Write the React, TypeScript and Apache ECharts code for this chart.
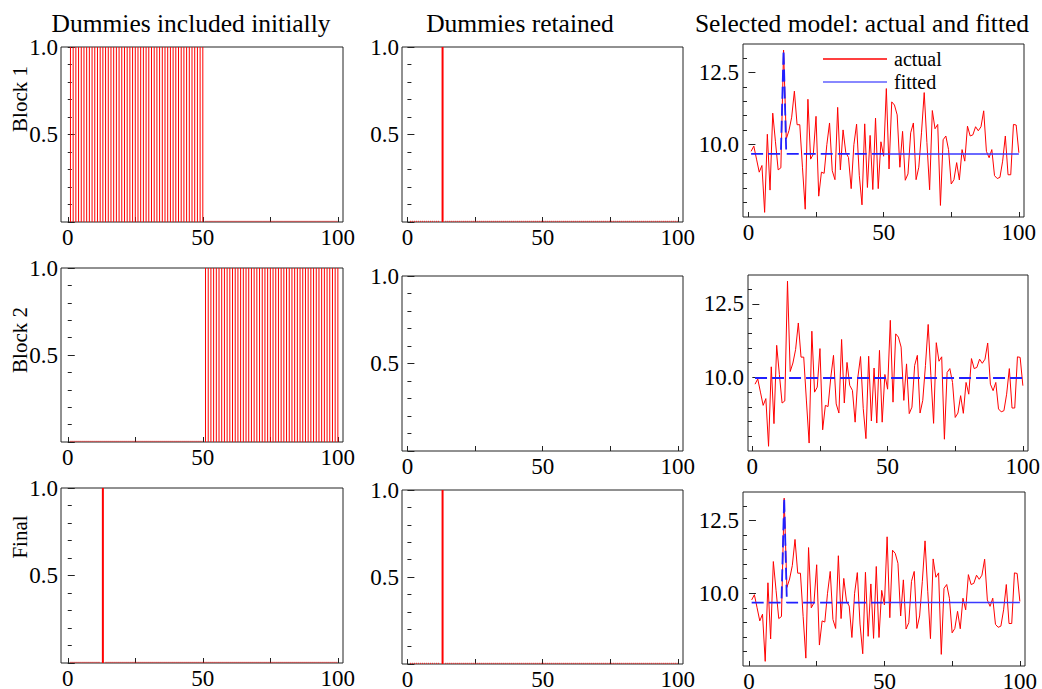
import React, { useEffect, useRef } from "react";
import * as echarts from "echarts";

// ---------- data ----------
const obs: number[] = Array.from({ length: 100 }, (_, i) => i + 1);

const actual: number[] = [
  9.77, 9.95, 9.5, 9.05, 9.28, 7.66, 10.36, 8.43, 11.09, 10.1,
  9.13, 9.2, 13.27, 10.2, 10.49, 10.95, 11.85, 10.69, 10.69, 9.2,
  7.77, 11.57, 9.5, 9.67, 10.98, 8.22, 9.05, 9.01, 10.0, 10.75,
  9.1, 8.79, 11.29, 9.13, 10.51, 9.73, 9.56, 8.48, 10.0, 10.71,
  8.94, 7.92, 10.72, 8.52, 10.32, 8.45, 10.92, 8.48, 10.1, 9.6,
  11.94, 9.16, 11.48, 11.37, 11.03, 9.22, 10.46, 8.77, 8.99, 10.41,
  10.75, 8.79, 9.22, 10.41, 11.8, 10.07, 8.44, 11.18, 10.55, 10.7,
  7.9, 10.17, 10.3, 9.83, 8.64, 8.79, 9.38, 8.78, 9.83, 9.43,
  10.64, 10.3, 10.34, 10.62, 10.48, 10.62, 11.17, 9.77, 9.55, 9.83,
  8.93, 8.83, 8.87, 9.43, 10.3, 8.96, 8.96, 10.7, 10.68, 9.72,
];

const includedBlock1: number[] = obs.filter((t) => t <= 50);
const retainedBlock1: number[] = [13];
const includedBlock2: number[] = obs.filter((t) => t > 50);
const retainedBlock2: number[] = [];
const includedFinal: number[] = [13];
const retainedFinal: number[] = [13];

const fittedLevelBlock1 = 9.68;
const fittedLevelBlock2 = 9.98;
const fittedLevelFinal = 9.68;

const xLabelValues = [0, 50, 100];
const xTickValues = [0, 25, 50, 75, 100];
const fitMajorTicks = [10, 12.5];
const fitMinorTicks = [8, 8.5, 9, 9.5, 10.5, 11, 11.5, 12, 13];

const columnTitles = ["Dummies included initially", "Dummies retained", "Selected model: actual and fitted"];
const rowNames = ["Block 1", "Block 2", "Final"];

// ---------- layout ----------
const FAMILY = "Liberation Serif";
const FONT = '"Liberation Serif", "Times New Roman", serif';
const grids = [
  { left: 61, top: 47, width: 282, height: 175 },
  { left: 402, top: 47, width: 281, height: 175 },
  { left: 743, top: 44, width: 281, height: 173 },
  { left: 61, top: 268, width: 282, height: 174 },
  { left: 402, top: 276, width: 281, height: 175 },
  { left: 748, top: 275, width: 280, height: 176 },
  { left: 61, top: 488, width: 282, height: 175 },
  { left: 402, top: 490, width: 281, height: 174 },
  { left: 743, top: 492, width: 282, height: 174 },
];
const xMins = [-2.5, -2, -2, -2.5, -2, -1.6, -2.5, -2, -2.2];
const titleX = [191, 520, 862];
const rowLabelY = [99, 340, 537];

const App: React.FC = () => {
  const ref = useRef<HTMLDivElement>(null);

  useEffect(() => {
    if (!ref.current) return;
    const chart = echarts.init(ref.current, undefined, { renderer: "svg" });

    const rich = { n: { fontFamily: FAMILY, fontSize: 23, color: "#000" } };
    const labelStyle = { fontFamily: FAMILY, fontSize: 23, color: "#000", rich };

    const xAxis: any[] = grids.map((_, g) => ({
      type: "value",
      gridIndex: g,
      min: xMins[g],
      max: 101.9,
      axisLine: { show: false },
      axisTick: { show: true, inside: true, length: 5, customValues: xTickValues, lineStyle: { color: "#222" } },
      axisLabel: {
        show: true,
        customValues: xLabelValues,
        ...labelStyle,
        margin: 4,
        formatter: (v: number) => `{n|${v}}`,
      },
      splitLine: { show: false },
    }));

    const yAxis: any[] = [];
    const series: any[] = [];

    const dummyPanels = [
      { grid: 0, flagged: includedBlock1 },
      { grid: 1, flagged: retainedBlock1 },
      { grid: 3, flagged: includedBlock2 },
      { grid: 4, flagged: retainedBlock2 },
      { grid: 6, flagged: includedFinal },
      { grid: 7, flagged: retainedFinal },
    ];

    dummyPanels.forEach((p) => {
      const yi = yAxis.length;
      yAxis.push({
        type: "value",
        gridIndex: p.grid,
        min: 0,
        max: 1,
        interval: 0.5,
        axisLine: { show: false },
        axisTick: { show: true, inside: true, length: 7, lineStyle: { color: "#222" } },
        minorTick: { show: true, splitNumber: 5, length: 4, lineStyle: { color: "#222" } },
        axisLabel: {
          ...labelStyle,
          margin: 3,
          formatter: (v: number) => (v === 0 ? "" : `{n|${v.toFixed(1)}}`),
        },
        splitLine: { show: false },
        minorSplitLine: { show: false },
      });
      const dummy = obs.map((t) => (p.flagged.includes(t) ? 1 : 0));
      series.push({
        type: "bar",
        xAxisIndex: p.grid,
        yAxisIndex: yi,
        data: obs.map((t, i) => [t, dummy[i]]),
        barWidth: p.flagged.length > 5 ? 1 : 2,
        itemStyle: { color: "#ff0000" },
        silent: true,
      });
      if (p.flagged.length > 0) {
        series.push({
          type: "line",
          xAxisIndex: p.grid,
          yAxisIndex: yi,
          data: obs.map((t, i) => [t, dummy[i] === 0 ? 0.004 : "-"]),
          symbol: "none",
          lineStyle: { color: "#ff0000", width: 1, type: "dotted" },
          silent: true,
        });
      }
    });

    const fitPanels = [
      { grid: 2, level: fittedLevelBlock1, dummies: retainedBlock1, split: 50 },
      { grid: 5, level: fittedLevelBlock2, dummies: retainedBlock2, split: 0 },
      { grid: 8, level: fittedLevelFinal, dummies: retainedFinal, split: 50 },
    ];

    fitPanels.forEach((p) => {
      const yi = yAxis.length;
      yAxis.push({
        type: "value",
        gridIndex: p.grid,
        min: 7.5,
        max: 13.48,
        position: "left",
        axisLine: { show: false },
        axisTick: { show: true, inside: true, length: 7, customValues: fitMajorTicks, lineStyle: { color: "#222" } },
        axisLabel: {
          customValues: fitMajorTicks,
          ...labelStyle,
          margin: 4,
          formatter: (v: number) => `{n|${v.toFixed(1)}}`,
        },
        splitLine: { show: false },
      });
      yAxis.push({
        type: "value",
        gridIndex: p.grid,
        min: 7.5,
        max: 13.48,
        position: "left",
        offset: 0,
        axisLine: { show: false },
        axisTick: { show: true, inside: true, length: 4, customValues: fitMinorTicks, lineStyle: { color: "#222" } },
        axisLabel: { show: false },
        splitLine: { show: false },
      });
      const fitted = obs.map((t, i) => (p.dummies.includes(t) ? actual[i] : p.level));
      series.push({
        type: "line",
        name: "actual",
        xAxisIndex: p.grid,
        yAxisIndex: yi,
        data: obs.map((t, i) => [t, actual[i]]),
        symbol: "none",
        lineStyle: { color: "#ff0000", width: 1 },
        itemStyle: { color: "#ff0000" },
        silent: true,
        z: 2,
      });
      if (p.split > 0) {
        series.push({
          type: "line",
          name: "fitted",
          xAxisIndex: p.grid,
          yAxisIndex: yi,
          data: obs.filter((t) => t >= p.split).map((t) => [t, fitted[t - 1]]),
          symbol: "none",
          lineStyle: { color: "#3a3aff", width: 1.5 },
          itemStyle: { color: "#6060ff" },
          silent: true,
          z: 3,
        });
        series.push({
          type: "line",
          name: "fittedDash",
          xAxisIndex: p.grid,
          yAxisIndex: yi,
          data: obs.filter((t) => t <= p.split).map((t) => [t, fitted[t - 1]]),
          symbol: "none",
          lineStyle: { color: "#2020ff", width: 1.8, type: [12, 5] },
          silent: true,
          z: 3,
        });
      } else {
        series.push({
          type: "line",
          name: "fittedDash",
          xAxisIndex: p.grid,
          yAxisIndex: yi,
          data: obs.map((t) => [t, fitted[t - 1]]),
          symbol: "none",
          lineStyle: { color: "#2020ff", width: 1.8, type: [12, 5] },
          silent: true,
          z: 3,
        });
      }
    });

    const graphic: any[] = [];
    columnTitles.forEach((txt, i) => {
      graphic.push({
        type: "text",
        x: titleX[i],
        y: 23,
        style: {
          text: txt,
          font: `25.5px ${FONT}`,
          fill: "#000",
          textAlign: "center",
          textVerticalAlign: "middle",
        },
      });
    });
    rowNames.forEach((txt, i) => {
      graphic.push({
        type: "text",
        x: 20,
        y: rowLabelY[i],
        rotation: Math.PI / 2,
        style: {
          text: txt,
          font: `21px ${FONT}`,
          fill: "#000",
          textAlign: "center",
          textVerticalAlign: "middle",
        },
      });
    });

    chart.setOption({
      animation: false,
      backgroundColor: "#fff",
      textStyle: { fontFamily: FAMILY },
      grid: grids.map((g) => ({
        ...g,
        show: true,
        borderColor: "#222",
        borderWidth: 1,
        backgroundColor: "transparent",
        containLabel: false,
        outerBoundsMode: "none",
      })),
      xAxis,
      yAxis,
      series,
      legend: {
        data: ["actual", "fitted"],
        orient: "vertical",
        left: 818,
        top: 44,
        icon: "rect",
        itemWidth: 64,
        itemHeight: 1.5,
        itemGap: 3,
        selectedMode: false,
        textStyle: { fontFamily: FAMILY, fontSize: 20, color: "#000", padding: [0, 0, 0, 2], lineHeight: 20 },
      },
      graphic,
    });

    return () => chart.dispose();
  }, []);

  return (
    <div
      ref={ref}
      style={{ position: "fixed", left: 0, top: 0, width: 1042, height: 689, background: "#fff" }}
    />
  );
};

export default App;
